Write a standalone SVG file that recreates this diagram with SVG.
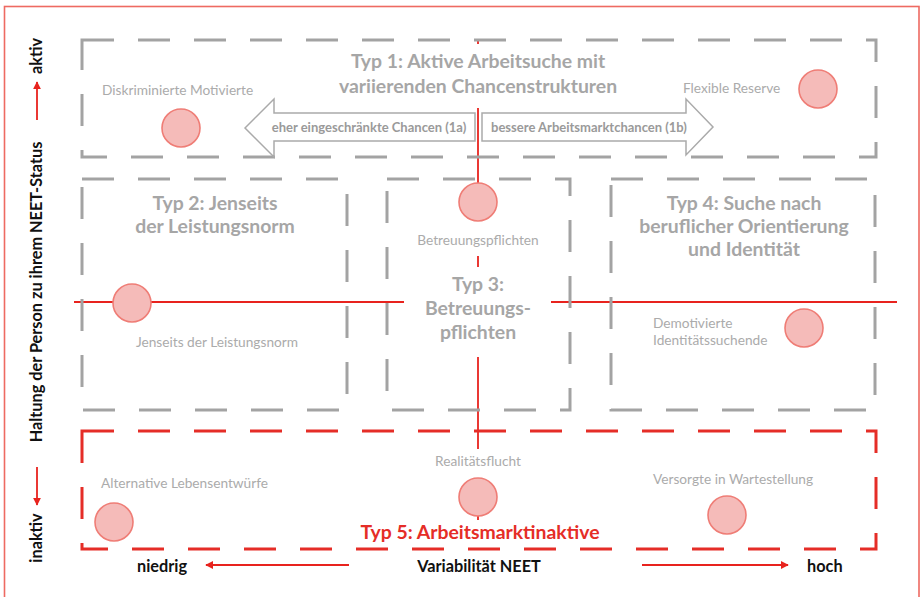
<svg xmlns="http://www.w3.org/2000/svg" width="921" height="597" viewBox="0 0 921 597">
<defs>
<style>
.box{fill:none;stroke:#a3a3a3;stroke-width:3;stroke-dasharray:32 24}
.rbox{fill:none;stroke:#e52d27;stroke-width:3;stroke-dasharray:32 24}
.title{font-family:Lato,"Open Sans",sans-serif;font-weight:bold;font-size:19.4px;fill:#a6a6a6;text-anchor:middle}
.lbl{font-family:Lato,"Open Sans",sans-serif;font-size:13.7px;fill:#ababab}
.dot{fill:#f5bbb9;stroke:#ef7d76;stroke-width:1.6}
.axis{stroke:#e8231e;stroke-width:1.8;fill:none}
.ax{font-family:Lato,"Open Sans",sans-serif;font-weight:bold;font-size:16.3px;fill:#111}
.arr{fill:#fff;stroke:#aaaaaa;stroke-width:1.5}
.atxt{font-family:Lato,"Open Sans",sans-serif;font-weight:bold;font-size:13px;fill:#9a9a9a;text-anchor:middle}
</style>
<marker id="ah" viewBox="0 0 10 10" refX="9" refY="5" markerWidth="8" markerHeight="8" markerUnits="userSpaceOnUse" orient="auto">
<path d="M0,0 L10,5 L0,10 z" fill="#e8231e"/>
</marker>
</defs>
<rect width="921" height="597" fill="#fff"/>
<rect x="4.5" y="6.5" width="914.5" height="600" fill="none" stroke="#ee6a62" stroke-width="1.6"/>

<g id="connectors">
<line class="axis" x1="478" y1="40" x2="478" y2="44"/>
<line class="axis" x1="478" y1="108" x2="478" y2="184"/>
<line class="axis" x1="478" y1="256" x2="478" y2="267"/>
<line class="axis" x1="478" y1="357" x2="478" y2="449"/>
<line class="axis" x1="478" y1="516" x2="478" y2="520"/>
<line class="axis" x1="74" y1="302" x2="404" y2="302"/>
<line class="axis" x1="551" y1="302" x2="897" y2="302"/>
<line class="axis" x1="37" y1="120" x2="37" y2="82" marker-end="url(#ah)"/>
<line class="axis" x1="37" y1="467" x2="37" y2="505" marker-end="url(#ah)"/>
<line class="axis" x1="349" y1="565" x2="206" y2="565" marker-end="url(#ah)"/>
<line class="axis" x1="642" y1="565" x2="788" y2="565" marker-end="url(#ah)"/>
</g>

<g id="typ1">
<rect class="box" x="82" y="40" width="794" height="117"/>
<text class="title" x="478" y="68">Typ 1: Aktive Arbeitsuche mit</text>
<text class="title" x="478" y="93">variierenden Chancenstrukturen</text>
</g>
<g id="arrow1a">
<polygon class="arr" points="245,128 274,99 274,113 475,113 475,141 274,141 274,157"/>
<text class="atxt" x="369" y="132">eher eingeschränkte Chancen (1a)</text>
</g>
<g id="arrow1b">
<polygon class="arr" points="482,113 686,113 686,99 713,127 686,155 686,141 482,141"/>
<text class="atxt" x="589" y="132">bessere Arbeitsmarktchancen (1b)</text>
</g>

<g id="typ2">
<rect class="box" x="82" y="179" width="265" height="231"/>
<text class="title" x="215" y="210">Typ 2: Jenseits</text>
<text class="title" x="215" y="233">der Leistungsnorm</text>
</g>
<g id="typ3">
<rect class="box" x="387" y="179" width="183" height="231"/>
<text class="title" x="478" y="291">Typ 3:</text>
<text class="title" x="478" y="315">Betreuungs-</text>
<text class="title" x="478" y="339">pflichten</text>
</g>
<g id="typ4">
<rect class="box" x="611" y="179" width="264" height="231"/>
<text class="title" x="744" y="210">Typ 4: Suche nach</text>
<text class="title" x="744" y="233">beruflicher Orientierung</text>
<text class="title" x="744" y="256">und Identität</text>
</g>
<g id="typ5">
<rect class="rbox" x="82" y="431" width="794" height="118"/>
<text class="title" x="480" y="539" style="fill:#e52d27">Typ 5: Arbeitsmarktinaktive</text>
</g>

<g id="p-diskriminierte">
<text class="lbl" x="102" y="95">Diskriminierte Motivierte</text>
<circle class="dot" cx="181" cy="128" r="19"/>
</g>
<g id="p-flexible">
<text class="lbl" x="683" y="93">Flexible Reserve</text>
<circle class="dot" cx="818" cy="89" r="19"/>
</g>
<g id="p-betreuung">
<circle class="dot" cx="478" cy="202" r="19"/>
<text class="lbl" x="478" y="245" text-anchor="middle">Betreuungspflichten</text>
</g>
<g id="p-jenseits">
<circle class="dot" cx="132" cy="303" r="19"/>
<text class="lbl" x="217" y="347" text-anchor="middle">Jenseits der Leistungsnorm</text>
</g>
<g id="p-demotivierte">
<text class="lbl" x="653" y="328">Demotivierte</text>
<text class="lbl" x="653" y="345">Identitätssuchende</text>
<circle class="dot" cx="804" cy="328" r="19"/>
</g>
<g id="p-alternative">
<text class="lbl" x="101" y="488">Alternative Lebensentwürfe</text>
<circle class="dot" cx="114" cy="522" r="19"/>
</g>
<g id="p-realitaet">
<text class="lbl" x="478" y="466" text-anchor="middle">Realitätsflucht</text>
<circle class="dot" cx="478" cy="497" r="19"/>
</g>
<g id="p-versorgte">
<text class="lbl" x="653" y="484">Versorgte in Wartestellung</text>
<circle class="dot" cx="727" cy="515" r="19"/>
</g>

<g id="axis-labels">
<text class="ax" x="137" y="572">niedrig</text>
<text class="ax" x="479" y="572" text-anchor="middle">Variabilität NEET</text>
<text class="ax" x="807" y="572">hoch</text>
<text class="ax" transform="translate(42,56) rotate(-90)" text-anchor="middle">aktiv</text>
<text class="ax" transform="translate(42,292) rotate(-90)" text-anchor="middle">Haltung der Person zu ihrem NEET-Status</text>
<text class="ax" transform="translate(42,538) rotate(-90)" text-anchor="middle">inaktiv</text>
</g>
</svg>
